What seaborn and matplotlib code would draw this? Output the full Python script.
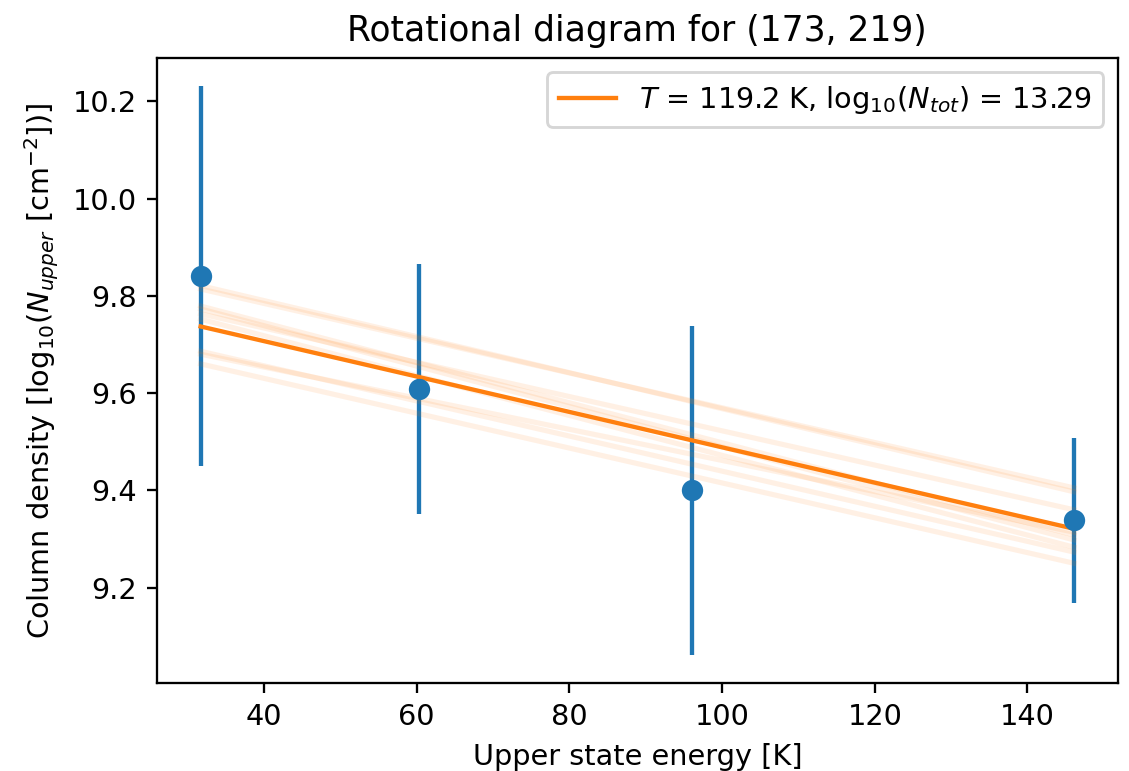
import numpy as np
import pandas as pd
import seaborn as sns
import matplotlib
matplotlib.use('Agg')
import matplotlib.pyplot as plt

# Measured points (upper state energy vs log10 column density)
energy = [31.7, 60.3, 96.0, 146.1]
log_n = [9.841, 9.608, 9.400, 9.338]
log_n_err = [0.390, 0.257, 0.338, 0.169]

# Best fit line evaluated at the measured energies
fit_y = [9.737, 9.633, 9.503, 9.321]
fit_label = r'$T$ = 119.2 K, $\mathrm{log}_{10}(N_{tot})$ = 13.29'

# Bootstrap fits, value at first and last energy
boot_left = [9.821, 9.814, 9.779, 9.773, 9.763, 9.752, 9.686, 9.680, 9.660]
boot_right = [9.397, 9.405, 9.308, 9.298, 9.360, 9.283, 9.273, 9.314, 9.250]

dpi = 207
fig, ax = plt.subplots(figsize=(1129 / dpi, 771 / dpi), dpi=dpi)
fig.subplots_adjust(left=0.139, right=0.990, top=0.925, bottom=0.114)

ax.errorbar(energy, log_n, yerr=log_n_err, fmt='none', ecolor='C0', zorder=2)

boot = pd.DataFrame({
    'sample': np.repeat(np.arange(len(boot_left)), 2),
    'energy': [e for _ in boot_left for e in (energy[0], energy[-1])],
    'log_n': [v for pair in zip(boot_left, boot_right) for v in pair],
})
sns.lineplot(data=boot, x='energy', y='log_n', units='sample', estimator=None,
             color='C1', alpha=0.11, linewidth=1.8, legend=False, ax=ax, zorder=3)

sns.lineplot(x=energy, y=fit_y, color='C1', label=fit_label, ax=ax, zorder=4)
sns.scatterplot(x=energy, y=log_n, color='C0', s=55, linewidth=0, ax=ax, zorder=5)

ax.legend(loc='upper right')
ax.set_title('Rotational diagram for (173, 219)')
ax.set_xlabel('Upper state energy [K]')
ax.set_ylabel(r'Column density [$\mathrm{log}_{10}(N_{upper}$ [cm$^{-2}$])]')

fig.savefig('out.png', dpi=dpi)
